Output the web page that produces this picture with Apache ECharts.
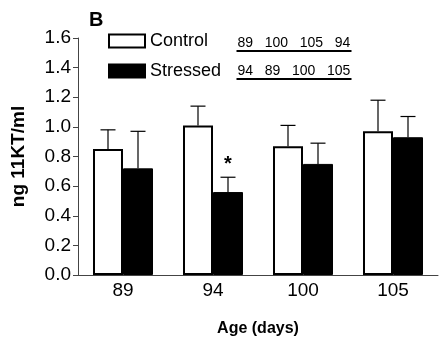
<!DOCTYPE html>
<html>
<head>
<meta charset="utf-8">
<script src="https://cdn.jsdelivr.net/npm/echarts@6/dist/echarts.min.js"></script>
<style>
  html, body { margin: 0; padding: 0; background: #fff; }
  #chart { width: 442px; height: 342px; }
</style>
</head>
<body>
<div id="chart"></div>
<script>
const ages = ["89", "94", "100", "105"];
const controlMean = [0.85, 1.01, 0.87, 0.97];
const controlUpper = [0.98, 1.14, 1.01, 1.18];
const stressedMean = [0.72, 0.56, 0.75, 0.93];
const stressedUpper = [0.97, 0.66, 0.89, 1.07];
const stressedSig = ["", "*", "", ""];
const controlOrder = ["89", "100", "105", "94"];
const stressedOrder = ["94", "89", "100", "105"];

const font = "Liberation Sans, Arial, sans-serif";

// error bar points: [category, mean, upper, series, mark]
const errData = [];
ages.forEach((a, i) => {
  errData.push([i, controlMean[i], controlUpper[i], 0, ""]);
  errData.push([i, stressedMean[i], stressedUpper[i], 1, stressedSig[i]]);
});

function renderErr(params, api) {
  const catW = api.size([1, 0])[0];
  const barW = catW / 3;
  const s = api.value(3);
  const off = s === 0 ? -barW / 2 : barW / 2;
  const base = api.coord([api.value(0), api.value(1)]);
  const top = api.coord([api.value(0), api.value(2)]);
  const x = base[0] + off;
  const half = barW / 4;
  const style = { stroke: "#000", lineWidth: 1.2 };
  const children = [
    { type: "line", shape: { x1: x, y1: base[1], x2: x, y2: top[1] }, style },
    { type: "line", shape: { x1: x - half, y1: top[1], x2: x + half, y2: top[1] }, style }
  ];
  const mark = errData[params.dataIndex][4];
  if (mark) {
    children.push({
      type: "text",
      style: {
        text: mark, x: x, y: top[1] - 3,
        textAlign: "center", textVerticalAlign: "bottom",
        font: "bold 20px " + font, fill: "#000"
      }
    });
  }
  return { type: "group", children };
}

const chart = echarts.init(document.getElementById("chart"));

chart.setOption({
  animation: false,
  title: {
    text: "B",
    left: 84,
    top: 5,
    textStyle: { fontFamily: font, fontWeight: "bold", fontSize: 20, color: "#000" }
  },
  legend: {
    left: 108,
    top: 32,
    orient: "vertical",
    icon: "rect",
    itemWidth: 36,
    itemHeight: 13,
    itemGap: 12,
    padding: 0,
    data: ["Control", "Stressed"],
    textStyle: { fontFamily: font, fontSize: 18, color: "#000" }
  },
  grid: { left: 78, right: 4, top: 38, bottom: 67 },
  xAxis: {
    type: "category",
    data: ages,
    name: "Age (days)",
    nameLocation: "middle",
    nameGap: 46,
    nameTextStyle: { fontFamily: font, fontWeight: "bold", fontSize: 16, color: "#000" },
    axisLine: { lineStyle: { color: "#444", width: 1 } },
    axisTick: { show: false },
    axisLabel: { fontFamily: font, fontSize: 19, color: "#000", margin: 6 }
  },
  yAxis: {
    type: "value",
    min: 0,
    max: 1.6,
    interval: 0.2,
    name: "ng 11KT/ml",
    nameLocation: "middle",
    nameGap: 50,
    nameTextStyle: { fontFamily: font, fontWeight: "bold", fontSize: 19, color: "#000" },
    axisLine: { show: true, lineStyle: { color: "#444", width: 1 } },
    axisTick: { show: true, length: 5, lineStyle: { color: "#444" } },
    splitLine: { show: false },
    axisLabel: {
      fontFamily: font, fontSize: 19, color: "#000", margin: 7,
      formatter: v => v.toFixed(1)
    }
  },
  series: [
    {
      name: "Control",
      type: "bar",
      data: controlMean,
      barGap: 0,
      barCategoryGap: "33.33%",
      itemStyle: { color: "#fff", borderColor: "#000", borderWidth: 2 }
    },
    {
      name: "Stressed",
      type: "bar",
      data: stressedMean,
      itemStyle: { color: "#000", borderColor: "#000", borderWidth: 1 }
    },
    {
      type: "custom",
      renderItem: renderErr,
      data: errData,
      encode: { x: 0, y: 2 },
      z: 1
    }
  ],
  graphic: [
    {
      type: "group",
      left: 234,
      top: 36,
      children: [
        { type: "text", x: 1, y: 0, style: { text: controlOrder.join("   "), font: "14px " + font, fill: "#000" } },
        { type: "line", shape: { x1: 0, y1: 15, x2: 115, y2: 15 }, style: { stroke: "#000", lineWidth: 2 } }
      ]
    },
    {
      type: "group",
      left: 234,
      top: 64,
      children: [
        { type: "text", x: 1, y: 0, style: { text: stressedOrder.join("   "), font: "14px " + font, fill: "#000" } },
        { type: "line", shape: { x1: 0, y1: 15, x2: 115, y2: 15 }, style: { stroke: "#000", lineWidth: 2 } }
      ]
    }
  ]
});
</script>
</body>
</html>
